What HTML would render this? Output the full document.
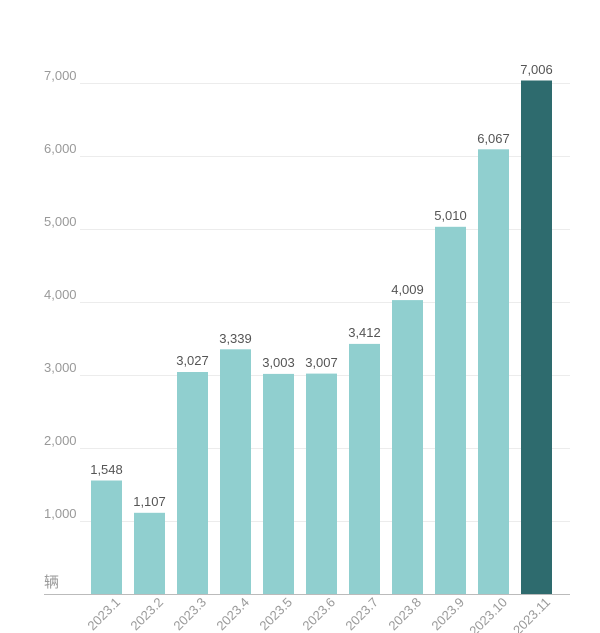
<!DOCTYPE html>
<html><head><meta charset="utf-8"><style>body{margin:0;background:#fff}svg{display:block}text{font-family:"Liberation Sans","Noto Sans CJK SC",sans-serif}</style></head>
<body>
<svg width="600" height="633" viewBox="0 0 600 633" xmlns="http://www.w3.org/2000/svg">
<g stroke="#ececec" stroke-width="1">
<line x1="80" x2="570" y1="83.5" y2="83.5"/>
<line x1="80" x2="570" y1="156.5" y2="156.5"/>
<line x1="80" x2="570" y1="229.5" y2="229.5"/>
<line x1="80" x2="570" y1="302.5" y2="302.5"/>
<line x1="80" x2="570" y1="375.5" y2="375.5"/>
<line x1="80" x2="570" y1="448.5" y2="448.5"/>
<line x1="80" x2="570" y1="521.5" y2="521.5"/>
</g>
<g fill="#999" font-size="13">
<text x="44" y="80">7,000</text>
<text x="44" y="153">6,000</text>
<text x="44" y="226">5,000</text>
<text x="44" y="299">4,000</text>
<text x="44" y="372">3,000</text>
<text x="44" y="445">2,000</text>
<text x="44" y="518">1,000</text>
<text x="44" y="587" font-size="15">辆</text>
</g>
<g fill="#90cfcf">
<rect x="91" y="480.5" width="31" height="113.5"/>
<rect x="134" y="512.8" width="31" height="81.2"/>
<rect x="177" y="372" width="31" height="222"/>
<rect x="220" y="349.3" width="31" height="244.7"/>
<rect x="263" y="373.9" width="31" height="220.1"/>
<rect x="306" y="373.6" width="31" height="220.4"/>
<rect x="349" y="343.9" width="31" height="250.1"/>
<rect x="392" y="300.1" width="31" height="293.9"/>
<rect x="435" y="226.8" width="31" height="367.2"/>
<rect x="478" y="149.3" width="31" height="444.7"/>
</g>
<rect x="521" y="80.5" width="31" height="513.5" fill="#2e6b6e"/>
<line x1="44" x2="570" y1="594.5" y2="594.5" stroke="#bbb"/>
<g fill="#555" font-size="13" text-anchor="middle">
<text x="106.5" y="474">1,548</text>
<text x="149.5" y="506">1,107</text>
<text x="192.5" y="365">3,027</text>
<text x="235.5" y="343">3,339</text>
<text x="278.5" y="367">3,003</text>
<text x="321.5" y="367">3,007</text>
<text x="364.5" y="337">3,412</text>
<text x="407.5" y="294">4,009</text>
<text x="450.5" y="220">5,010</text>
<text x="493.5" y="143">6,067</text>
<text x="536.5" y="74">7,006</text>
</g>
<g fill="#999" font-size="13" text-anchor="end">
<text transform="translate(121,603) rotate(-45)">2023.1</text>
<text transform="translate(164,603) rotate(-45)">2023.2</text>
<text transform="translate(207,603) rotate(-45)">2023.3</text>
<text transform="translate(250,603) rotate(-45)">2023.4</text>
<text transform="translate(293,603) rotate(-45)">2023.5</text>
<text transform="translate(336,603) rotate(-45)">2023.6</text>
<text transform="translate(379,603) rotate(-45)">2023.7</text>
<text transform="translate(422,603) rotate(-45)">2023.8</text>
<text transform="translate(465,603) rotate(-45)">2023.9</text>
<text transform="translate(508,603) rotate(-45)">2023.10</text>
<text transform="translate(551,603) rotate(-45)">2023.11</text>
</g>
</svg>
</body></html>
